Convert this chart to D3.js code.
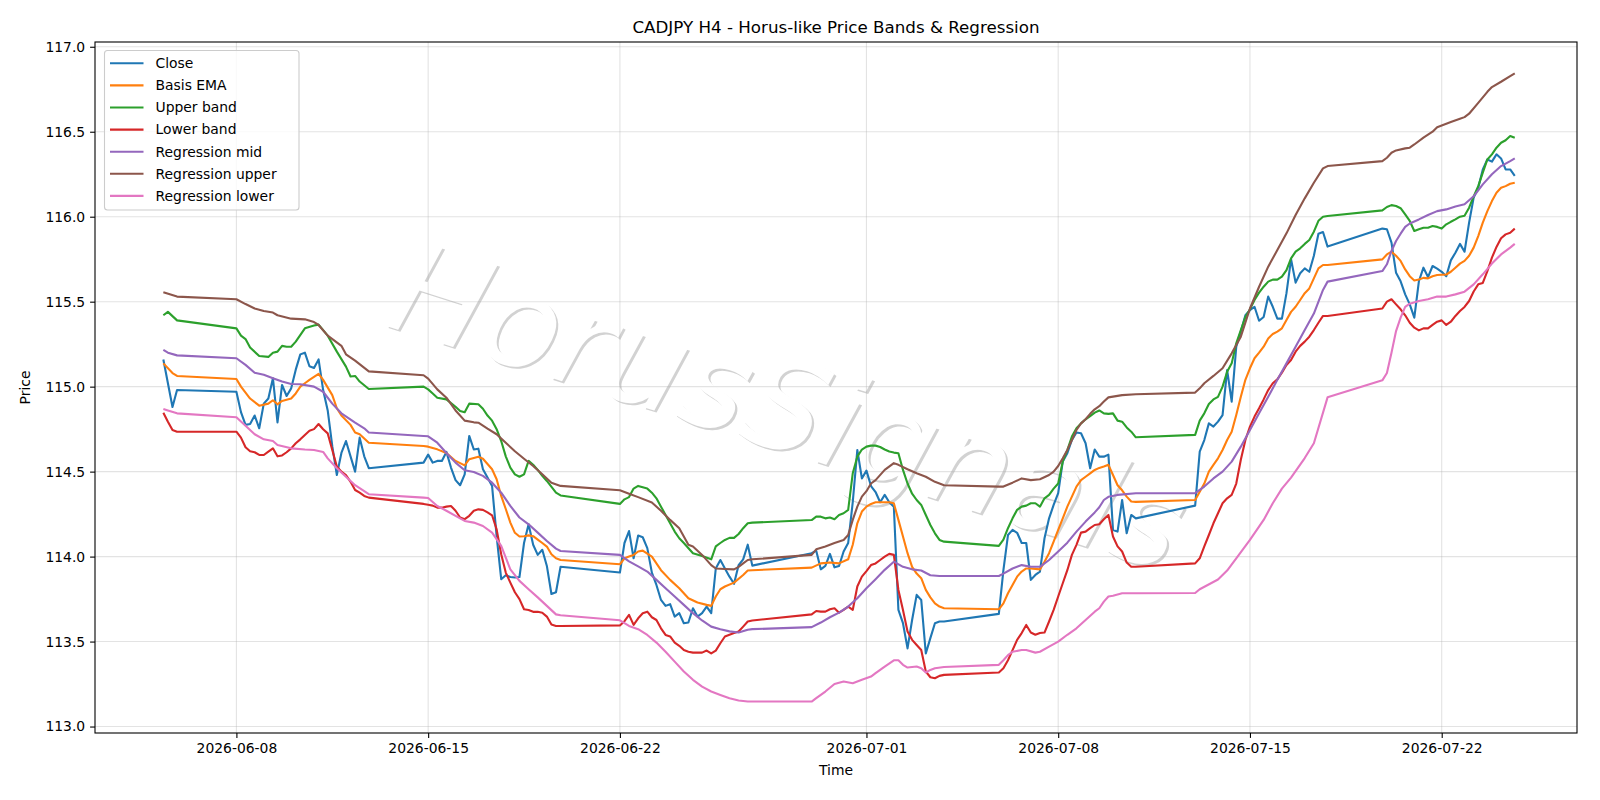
<!DOCTYPE html>
<html>
<head>
<meta charset="utf-8">
<script src="https://cdn.jsdelivr.net/npm/d3@7"></script>
<style>
  body { margin: 0; background: #fff; }
  svg text { font-family: "DejaVu Sans", sans-serif; fill: #000; }
</style>
</head>
<body>
<script>
// H4 bars are addressed as (w, j): w = week number (0 = week of 2026-06-08),
// j = 4h slot from Monday 00:00 (negative = before Monday, e.g. -1 = Sunday 20:00)
const weekBase = Date.UTC(2026, 5, 8);

// close: one value per bar, sessions give the bar ranges in order
const closeSessions = [
  [0, -16, -13],
  [0, 0, 29],
  [1, -1, 29],
  [2, 0, 29],
  [3, 0, 29],
  [4, -1, 29],
  [5, 0, 29],
  [6, -1, 28]
];
const close = [
  115.16, 115.02, 114.88, 114.98,
  114.97, 114.85, 114.775, 114.78, 114.83, 114.755, 114.90, 114.93, 115.05, 114.79,
  115.01, 114.945, 114.99, 115.10, 115.19, 115.20, 115.12, 115.11, 115.16, 114.98,
  114.86, 114.65, 114.48, 114.61, 114.68, 114.59, 114.50, 114.70, 114.59, 114.52,
  114.553, 114.60, 114.553, 114.563, 114.563, 114.616, 114.524, 114.45, 114.42, 114.484,
  114.71, 114.63, 114.635, 114.514, 114.465, 114.416, 114.12, 113.867, 113.89, 113.88,
  113.877, 113.88, 114.08, 114.19, 114.07, 114.01, 114.04, 113.945, 113.78, 113.79, 113.94,
  113.906, 114.08, 114.15, 113.99, 114.124, 114.114, 114.05, 113.906, 113.833, 113.745,
  113.71, 113.72, 113.647, 113.667, 113.608, 113.612, 113.696, 113.647, 113.667, 113.706,
  113.667, 113.93, 113.98, 113.93, 113.882, 113.84, 113.95, 113.984, 114.07, 113.947,
  114.02, 114.035, 113.925, 113.945, 114.016, 113.937, 113.945, 114.03, 114.08, 114.32,
  114.627, 114.46, 114.506, 114.415, 114.38, 114.32, 114.363, 114.32, 114.294, 113.686,
  113.608, 113.46, 113.627, 113.775, 113.745, 113.43, 113.52, 113.608, 113.618, 113.618,
  113.663, 113.92, 114.127, 114.157, 114.14, 114.08, 114.08, 113.863, 113.892, 113.912,
  114.108, 114.225, 114.304, 114.373, 114.56, 114.608, 114.686, 114.73, 114.726, 114.667,
  114.52, 114.63, 114.588, 114.588, 114.6, 114.157, 114.147, 114.333, 114.137, 114.245, 114.225,
  114.30, 114.618, 114.686, 114.784, 114.765, 114.794, 114.833, 115.098, 114.912, 115.235,
  115.324, 115.42, 115.45, 115.47, 115.388, 115.41, 115.53, 115.47, 115.40, 115.40,
  115.55, 115.75, 115.612, 115.667, 115.696, 115.676, 115.77, 115.90, 115.91, 115.824,
  115.93, 115.926, 115.847, 115.67, 115.62, 115.543, 115.484, 115.406, 115.62, 115.70,
  115.645, 115.71, 115.694, 115.676, 115.65, 115.743, 115.788, 115.84, 115.794, 115.965,
  116.112, 116.17, 116.278, 116.337, 116.324, 116.367, 116.343, 116.278, 116.278, 116.24
];

// smoother series: [w, j, value] at the bars where the line bends
const basisEma = [
  [0,-16,115.137],[0,-14,115.08],[0,-13,115.063],[0,0,115.045],[0,1,115.0],[0,3,114.93],[0,5,114.888],
  [0,7,114.90],[0,8,114.92],[0,9,114.896],[0,10,114.916],[0,12,114.93],[0,13,114.96],[0,14,115.0],
  [0,15,115.02],[0,16,115.04],[0,18,115.075],[0,19,115.04],[0,21,114.95],[0,22,114.873],[0,23,114.83],
  [0,25,114.775],[0,26,114.73],[0,27,114.72],[0,29,114.67],
  [1,-1,114.651],[1,0,114.647],[1,2,114.631],[1,4,114.61],[1,6,114.563],[1,8,114.537],[1,9,114.573],
  [1,11,114.588],[1,12,114.576],[1,14,114.514],[1,15,114.455],[1,16,114.357],[1,17,114.28],[1,18,114.20],
  [1,19,114.14],[1,20,114.118],[1,21,114.12],[1,22,114.125],[1,23,114.12],[1,24,114.10],[1,25,114.08],
  [1,26,114.059],[1,27,114.014],[1,28,113.99],[1,29,113.98],
  [2,0,113.955],[2,1,113.99],[2,2,114.0],[2,3,114.01],[2,4,114.03],[2,5,114.035],[2,7,114.0],[2,9,113.92],
  [2,11,113.863],[2,13,113.814],[2,15,113.755],[2,17,113.73],[2,19,113.716],[2,20,113.71],[2,21,113.765],
  [2,22,113.808],[2,23,113.824],[2,25,113.847],[2,27,113.892],[2,28,113.918],[2,29,113.92],
  [3,0,113.935],[3,2,113.96],[3,4,113.965],[3,6,113.96],[3,8,113.984],[3,9,114.07],[3,10,114.196],
  [3,11,114.265],[3,12,114.294],[3,13,114.31],[3,14,114.32],[3,17,114.32],[3,18,114.314],[3,19,114.216],
  [3,20,114.118],[3,21,114.02],[3,22,113.94],[3,23,113.90],[3,24,113.873],[3,25,113.804],[3,26,113.76],
  [3,27,113.725],[3,28,113.706],[3,29,113.696],
  [4,-1,113.69],[4,0,113.725],[4,1,113.784],[4,2,113.833],[4,3,113.882],[4,4,113.912],[4,5,113.93],
  [4,6,113.93],[4,8,113.925],[4,9,113.97],[4,10,114.02],[4,11,114.088],[4,12,114.157],[4,13,114.225],
  [4,14,114.294],[4,15,114.353],[4,16,114.412],[4,17,114.45],[4,18,114.47],[4,19,114.49],[4,20,114.51],
  [4,21,114.522],[4,22,114.53],[4,23,114.54],[4,24,114.48],[4,25,114.42],[4,26,114.39],[4,27,114.353],
  [4,28,114.324],[4,29,114.322],
  [5,0,114.333],[5,1,114.382],[5,2,114.43],[5,3,114.5],[5,4,114.54],[5,5,114.578],[5,6,114.627],
  [5,7,114.686],[5,8,114.735],[5,9,114.833],[5,10,114.94],[5,11,115.04],[5,12,115.108],[5,13,115.167],
  [5,14,115.2],[5,15,115.235],[5,16,115.284],[5,17,115.31],[5,18,115.324],[5,19,115.343],[5,20,115.392],
  [5,21,115.44],[5,22,115.47],[5,23,115.51],[5,24,115.55],[5,25,115.578],[5,26,115.637],[5,27,115.696],
  [5,28,115.716],[5,29,115.716],
  [6,-1,115.749],[6,0,115.778],[6,1,115.794],[6,2,115.77],[6,3,115.74],[6,4,115.69],[6,5,115.65],
  [6,6,115.625],[6,7,115.63],[6,8,115.64],[6,9,115.637],[6,10,115.65],[6,11,115.657],[6,13,115.66],
  [6,14,115.676],[6,15,115.70],[6,16,115.724],[6,17,115.74],[6,18,115.77],[6,19,115.818],[6,20,115.886],
  [6,21,115.965],[6,22,116.033],[6,23,116.092],[6,24,116.141],[6,25,116.17],[6,26,116.18],[6,27,116.194],
  [6,28,116.2]
];

const upperBand = [
  [0,-16,115.42],[0,-15,115.44],[0,-13,115.39],[0,0,115.343],[0,1,115.30],[0,2,115.28],[0,3,115.23],
  [0,5,115.18],[0,7,115.175],[0,8,115.20],[0,9,115.206],[0,10,115.24],[0,11,115.235],[0,12,115.235],
  [0,13,115.265],[0,15,115.343],[0,17,115.36],[0,18,115.365],[0,20,115.30],[0,22,115.206],[0,24,115.118],
  [0,25,115.06],[0,26,115.063],[0,27,115.03],[0,29,114.986],
  [1,-1,115.0],[1,0,114.984],[1,1,114.96],[1,2,114.935],[1,4,114.925],[1,6,114.882],[1,7,114.857],
  [1,8,114.85],[1,9,114.90],[1,11,114.896],[1,12,114.87],[1,13,114.83],[1,14,114.80],[1,15,114.75],
  [1,16,114.68],[1,17,114.59],[1,18,114.523],[1,19,114.484],[1,20,114.47],[1,21,114.484],[1,22,114.563],
  [1,23,114.54],[1,24,114.51],[1,25,114.475],[1,26,114.445],[1,28,114.376],[1,29,114.36],
  [2,0,114.31],[2,1,114.337],[2,2,114.35],[2,3,114.40],[2,4,114.416],[2,6,114.40],[2,7,114.376],
  [2,8,114.343],[2,9,114.294],[2,10,114.245],[2,11,114.196],[2,12,114.147],[2,13,114.108],[2,14,114.08],
  [2,16,114.02],[2,18,114.004],[2,20,113.984],[2,21,114.06],[2,22,114.08],[2,23,114.098],[2,24,114.11],
  [2,25,114.11],[2,26,114.133],[2,27,114.167],[2,28,114.196],[2,29,114.2],
  [3,0,114.215],[3,1,114.235],[3,2,114.235],[3,3,114.225],[3,4,114.23],[3,5,114.22],[3,6,114.245],
  [3,7,114.255],[3,8,114.275],[3,9,114.49],[3,10,114.588],[3,11,114.63],[3,12,114.647],[3,13,114.653],
  [3,14,114.653],[3,15,114.645],[3,16,114.63],[3,17,114.618],[3,18,114.612],[3,19,114.608],[3,20,114.51],
  [3,21,114.43],[3,22,114.37],[3,23,114.333],[3,24,114.304],[3,25,114.245],[3,26,114.186],[3,27,114.137],
  [3,28,114.098],[3,29,114.088],
  [4,-1,114.063],[4,0,114.10],[4,1,114.167],[4,2,114.225],[4,3,114.275],[4,4,114.294],[4,5,114.30],
  [4,6,114.314],[4,7,114.314],[4,8,114.294],[4,9,114.343],[4,10,114.363],[4,11,114.40],[4,12,114.43],
  [4,13,114.56],[4,14,114.627],[4,15,114.706],[4,16,114.755],[4,17,114.784],[4,18,114.808],[4,19,114.827],
  [4,20,114.847],[4,21,114.86],[4,22,114.843],[4,23,114.84],[4,24,114.843],[4,25,114.80],[4,26,114.794],
  [4,27,114.76],[4,28,114.735],[4,29,114.702],
  [5,0,114.716],[5,1,114.8],[5,2,114.843],[5,3,114.898],[5,4,114.925],[5,5,114.94],[5,6,115.0],
  [5,7,115.088],[5,8,115.137],[5,9,115.255],[5,10,115.333],[5,11,115.41],[5,12,115.455],[5,13,115.51],
  [5,14,115.553],[5,15,115.588],[5,16,115.618],[5,17,115.63],[5,18,115.63],[5,19,115.647],[5,20,115.686],
  [5,21,115.755],[5,22,115.794],[5,23,115.814],[5,24,115.84],[5,25,115.863],[5,26,115.912],[5,27,115.976],
  [5,28,116.0],[5,29,116.004],
  [6,-1,116.037],[6,0,116.057],[6,1,116.068],[6,2,116.063],[6,3,116.05],[6,4,116.014],[6,5,115.975],
  [6,6,115.916],[6,7,115.926],[6,8,115.935],[6,9,115.935],[6,10,115.945],[6,11,115.94],[6,12,115.93],
  [6,13,115.955],[6,14,115.97],[6,15,115.984],[6,16,116.0],[6,17,116.006],[6,18,116.053],[6,19,116.12],
  [6,20,116.18],[6,21,116.259],[6,22,116.337],[6,23,116.367],[6,24,116.406],[6,25,116.435],[6,26,116.45],
  [6,27,116.475],[6,28,116.465]
];

const lowerBand = [
  [0,-16,114.847],[0,-15,114.794],[0,-14,114.745],[0,-13,114.735],[0,0,114.735],[0,1,114.70],[0,2,114.643],
  [0,3,114.62],[0,4,114.614],[0,5,114.598],[0,6,114.598],[0,7,114.618],[0,8,114.637],[0,9,114.59],
  [0,10,114.595],[0,11,114.614],[0,12,114.637],[0,13,114.667],[0,14,114.69],[0,15,114.716],[0,16,114.74],
  [0,17,114.75],[0,18,114.78],[0,19,114.749],[0,20,114.725],[0,21,114.627],[0,22,114.53],[0,23,114.50],
  [0,24,114.48],[0,25,114.44],[0,26,114.392],[0,27,114.376],[0,28,114.357],[0,29,114.347],
  [1,-1,114.31],[1,0,114.305],[1,1,114.3],[1,2,114.288],[1,3,114.288],[1,4,114.294],[1,5,114.298],
  [1,6,114.27],[1,7,114.23],[1,8,114.22],[1,9,114.24],[1,10,114.27],[1,11,114.278],[1,12,114.275],
  [1,13,114.26],[1,14,114.243],[1,15,114.16],[1,16,114.014],[1,17,113.906],[1,18,113.847],[1,19,113.79],
  [1,20,113.75],[1,21,113.69],[1,22,113.686],[1,23,113.675],[1,24,113.675],[1,25,113.67],[1,26,113.647],
  [1,27,113.60],[1,28,113.592],[1,29,113.592],
  [2,0,113.595],[2,1,113.62],[2,2,113.657],[2,3,113.598],[2,4,113.637],[2,5,113.667],[2,6,113.676],
  [2,7,113.643],[2,8,113.627],[2,9,113.578],[2,10,113.539],[2,11,113.53],[2,12,113.494],[2,13,113.475],
  [2,14,113.45],[2,15,113.44],[2,16,113.435],[2,18,113.435],[2,19,113.447],[2,20,113.43],[2,21,113.447],
  [2,22,113.49],[2,23,113.53],[2,24,113.54],[2,25,113.55],[2,26,113.559],[2,27,113.588],[2,28,113.618],
  [2,29,113.624],
  [3,0,113.66],[3,1,113.68],[3,2,113.676],[3,3,113.676],[3,4,113.69],[3,5,113.696],[3,6,113.67],
  [3,7,113.686],[3,8,113.706],[3,9,113.686],[3,10,113.824],[3,11,113.882],[3,12,113.915],[3,13,113.95],
  [3,14,113.96],[3,15,113.98],[3,16,114.0],[3,17,114.016],[3,18,114.01],[3,19,113.804],[3,20,113.686],
  [3,21,113.559],[3,22,113.51],[3,23,113.48],[3,24,113.45],[3,25,113.324],[3,26,113.29],[3,27,113.284],
  [3,28,113.298],[3,29,113.304],
  [4,-1,113.318],[4,0,113.343],[4,1,113.39],[4,2,113.45],[4,3,113.51],[4,4,113.55],[4,5,113.598],
  [4,6,113.553],[4,7,113.54],[4,8,113.55],[4,9,113.553],[4,10,113.618],[4,11,113.686],[4,12,113.765],
  [4,13,113.843],[4,14,113.92],[4,15,114.01],[4,16,114.069],[4,17,114.141],[4,18,114.147],[4,19,114.167],
  [4,20,114.186],[4,21,114.19],[4,22,114.22],[4,23,114.245],[4,24,114.118],[4,25,114.06],[4,26,114.03],
  [4,27,113.965],[4,28,113.94],[4,29,113.94],
  [5,0,113.96],[5,1,113.99],[5,2,114.06],[5,3,114.127],[5,4,114.196],[5,5,114.255],[5,6,114.314],
  [5,7,114.343],[5,8,114.363],[5,9,114.43],[5,10,114.57],[5,11,114.686],[5,12,114.765],[5,13,114.824],
  [5,14,114.873],[5,15,114.925],[5,16,114.98],[5,17,115.02],[5,18,115.043],[5,19,115.082],[5,20,115.127],
  [5,21,115.157],[5,22,115.206],[5,23,115.24],[5,24,115.265],[5,25,115.294],[5,26,115.333],[5,27,115.376],
  [5,28,115.416],[5,29,115.416],
  [6,-1,115.46],[6,0,115.5],[6,1,115.514],[6,2,115.484],[6,3,115.455],[6,4,115.42],[6,5,115.376],
  [6,6,115.347],[6,7,115.331],[6,8,115.343],[6,9,115.343],[6,10,115.363],[6,11,115.382],[6,12,115.39],
  [6,13,115.363],[6,14,115.382],[6,15,115.416],[6,16,115.445],[6,17,115.469],[6,18,115.504],[6,19,115.56],
  [6,20,115.602],[6,21,115.61],[6,22,115.68],[6,23,115.759],[6,24,115.822],[6,25,115.873],[6,26,115.896],
  [6,27,115.906],[6,28,115.93]
];

const regMid = [
  [0,-16,115.216],[0,-15,115.20],[0,-13,115.184],[0,0,115.167],[0,2,115.128],[0,4,115.082],[0,6,115.07],
  [0,8,115.05],[0,10,115.03],[0,12,115.016],[0,14,115.014],[0,17,115.0],[0,19,114.97],[0,21,114.90],
  [0,23,114.843],[0,26,114.788],[0,28,114.755],[0,29,114.73],
  [1,-1,114.71],[1,0,114.708],[1,2,114.67],[1,4,114.61],[1,6,114.553],[1,8,114.508],[1,10,114.498],
  [1,12,114.475],[1,14,114.435],[1,16,114.376],[1,18,114.298],[1,20,114.23],[1,22,114.19],[1,24,114.141],
  [1,26,114.092],[1,28,114.047],[1,29,114.033],
  [2,0,114.01],[2,2,113.972],[2,4,113.942],[2,6,113.912],[2,8,113.863],[2,10,113.814],[2,12,113.765],
  [2,14,113.716],[2,16,113.667],[2,18,113.624],[2,20,113.588],[2,22,113.573],[2,24,113.56],[2,26,113.553],
  [2,28,113.57],[2,29,113.573],
  [3,0,113.585],[3,2,113.612],[3,4,113.643],[3,6,113.67],[3,8,113.706],[3,10,113.755],[3,12,113.814],
  [3,14,113.867],[3,16,113.922],[3,18,113.97],[3,20,113.94],[3,22,113.925],[3,24,113.918],[3,26,113.89],
  [3,28,113.886],[3,29,113.886],
  [4,-1,113.886],[4,0,113.90],[4,2,113.93],[4,4,113.95],[4,6,113.94],[4,8,113.94],[4,10,113.98],
  [4,12,114.03],[4,14,114.082],[4,16,114.147],[4,18,114.206],[4,20,114.26],[4,21,114.29],[4,22,114.333],
  [4,23,114.352],[4,25,114.363],[4,29,114.373],
  [5,0,114.373],[5,2,114.412],[5,4,114.46],[5,6,114.5],[5,8,114.559],[5,10,114.647],[5,12,114.745],
  [5,14,114.843],[5,16,114.94],[5,18,115.04],[5,20,115.137],[5,22,115.235],[5,24,115.333],[5,26,115.43],
  [5,28,115.569],[5,29,115.618],
  [6,-1,115.68],[6,0,115.72],[6,1,115.798],[6,2,115.857],[6,3,115.9],[6,4,115.94],[6,5,115.96],
  [6,7,115.984],[6,9,116.01],[6,11,116.033],[6,13,116.043],[6,15,116.06],[6,17,116.073],[6,19,116.12],
  [6,21,116.19],[6,23,116.25],[6,25,116.298],[6,27,116.327],[6,28,116.343]
];

const regUpper = [
  [0,-16,115.555],[0,-13,115.53],[0,0,115.514],[0,2,115.486],[0,4,115.46],[0,6,115.445],[0,8,115.436],
  [0,9,115.42],[0,12,115.40],[0,15,115.396],[0,17,115.38],[0,18,115.363],[0,20,115.30],[0,23,115.24],
  [0,24,115.19],[0,26,115.153],[0,29,115.09],
  [1,-1,115.067],[1,0,115.047],[1,2,114.984],[1,4,114.935],[1,6,114.86],[1,8,114.80],[1,10,114.79],
  [1,11,114.788],[1,13,114.753],[1,15,114.72],[1,17,114.67],[1,19,114.62],[1,21,114.576],[1,23,114.533],
  [1,25,114.484],[1,27,114.435],[1,29,114.416],
  [2,0,114.39],[2,2,114.37],[2,4,114.35],[2,7,114.318],[2,9,114.27],[2,11,114.216],[2,13,114.167],
  [2,15,114.07],[2,16,114.06],[2,18,114.01],[2,20,113.95],[2,21,113.93],[2,23,113.927],[2,25,113.925],
  [2,26,113.94],[2,27,113.96],[2,28,113.98],[2,29,113.984],
  [3,0,114.01],[3,1,114.043],[3,3,114.06],[3,5,114.08],[3,7,114.098],[3,8,114.127],[3,9,114.216],
  [3,10,114.294],[3,11,114.353],[3,12,114.385],[3,13,114.43],[3,14,114.45],[3,16,114.51],[3,18,114.55],
  [3,19,114.54],[3,21,114.514],[3,23,114.49],[3,25,114.47],[3,27,114.44],[3,29,114.42],
  [4,-1,114.412],[4,0,114.412],[4,2,114.435],[4,4,114.46],[4,6,114.45],[4,8,114.455],[4,10,114.48],
  [4,11,114.50],[4,12,114.533],[4,13,114.578],[4,14,114.627],[4,15,114.686],[4,16,114.745],[4,17,114.784],
  [4,18,114.808],[4,19,114.84],[4,20,114.867],[4,21,114.885],[4,22,114.912],[4,23,114.937],[4,26,114.95],
  [4,29,114.955],
  [5,0,114.965],[5,1,114.99],[5,2,115.02],[5,4,115.063],[5,6,115.108],[5,8,115.196],[5,10,115.294],
  [5,12,115.46],[5,14,115.588],[5,16,115.706],[5,18,115.804],[5,20,115.902],[5,22,116.01],[5,24,116.108],
  [5,26,116.2],[5,28,116.284],[5,29,116.298],
  [6,-1,116.327],[6,0,116.347],[6,1,116.376],[6,2,116.39],[6,4,116.402],[6,5,116.406],[6,6,116.425],
  [6,8,116.465],[6,10,116.5],[6,11,116.527],[6,12,116.537],[6,14,116.557],[6,16,116.576],[6,17,116.586],
  [6,18,116.606],[6,20,116.67],[6,22,116.735],[6,23,116.763],[6,25,116.794],[6,27,116.827],[6,28,116.843]
];

const regLower = [
  [0,-16,114.869],[0,-15,114.86],[0,-13,114.843],[0,0,114.82],[0,2,114.77],[0,4,114.72],[0,6,114.69],
  [0,8,114.68],[0,9,114.657],[0,12,114.637],[0,15,114.63],[0,17,114.627],[0,19,114.616],[0,20,114.578],
  [0,22,114.52],[0,24,114.47],[0,26,114.42],[0,29,114.367],
  [1,-1,114.347],[1,0,114.345],[1,2,114.298],[1,4,114.27],[1,6,114.24],[1,8,114.21],[1,10,114.2],
  [1,12,114.18],[1,14,114.141],[1,16,114.063],[1,18,113.925],[1,20,113.857],[1,22,113.808],[1,24,113.76],
  [1,26,113.71],[1,28,113.66],[1,29,113.655],
  [2,0,113.625],[2,2,113.592],[2,4,113.573],[2,6,113.539],[2,8,113.494],[2,10,113.44],[2,12,113.382],
  [2,14,113.324],[2,16,113.275],[2,18,113.235],[2,20,113.206],[2,22,113.186],[2,24,113.167],[2,26,113.153],
  [2,28,113.147],[2,29,113.147],
  [3,0,113.147],[3,1,113.167],[3,3,113.206],[3,5,113.25],[3,7,113.265],[3,9,113.255],[3,11,113.275],
  [3,13,113.294],[3,14,113.314],[3,16,113.353],[3,18,113.39],[3,19,113.39],[3,20,113.363],[3,21,113.347],
  [3,23,113.353],[3,24,113.343],[3,25,113.318],[3,26,113.333],[3,27,113.343],[3,29,113.35],
  [4,-1,113.363],[4,0,113.39],[4,1,113.42],[4,2,113.44],[4,4,113.45],[4,5,113.45],[4,7,113.435],
  [4,8,113.44],[4,10,113.47],[4,12,113.5],[4,14,113.54],[4,16,113.578],[4,18,113.627],[4,20,113.676],
  [4,21,113.696],[4,22,113.735],[4,23,113.765],[4,24,113.77],[4,26,113.784],[4,29,113.784],
  [5,0,113.786],[5,1,113.808],[5,5,113.865],[5,7,113.918],[5,9,113.99],[5,12,114.098],[5,15,114.216],
  [5,17,114.314],[5,19,114.40],[5,21,114.465],[5,24,114.58],[5,26,114.667],[5,29,114.937],
  [6,-1,115.037],[6,0,115.08],[6,1,115.2],[6,2,115.327],[6,3,115.406],[6,4,115.469],[6,5,115.488],
  [6,7,115.504],[6,9,115.514],[6,11,115.53],[6,13,115.53],[6,15,115.543],[6,17,115.559],[6,19,115.602],
  [6,21,115.661],[6,23,115.724],[6,25,115.778],[6,27,115.818],[6,28,115.84]
];

const seriesNames = ["Close", "Basis EMA", "Upper band", "Lower band", "Regression mid", "Regression upper", "Regression lower"];
const seriesColors = ["#1f77b4", "#ff7f0e", "#2ca02c", "#d62728", "#9467bd", "#8c564b", "#e377c2"];
const xTickLabels = ["2026-06-08", "2026-06-15", "2026-06-22", "2026-07-01", "2026-07-08", "2026-07-15", "2026-07-22"];
const yTickValues = [113.0, 113.5, 114.0, 114.5, 115.0, 115.5, 116.0, 116.5, 117.0];

function barTime(w, j) {
  return new Date(weekBase + w * 7 * 864e5 + j * 4 * 36e5);
}

// expand close into points
var closePts = [], k = 0;
closeSessions.forEach(function(s) {
  for (var j = s[1]; j <= s[2]; j++) {
    closePts.push({ t: barTime(s[0], j), v: close[k++] });
  }
});
function toPts(arr) {
  return arr.map(function(d) { return { t: barTime(d[0], d[1]), v: d[2] }; });
}
var allSeries = [closePts, toPts(basisEma), toPts(upperBand), toPts(lowerBand),
                 toPts(regMid), toPts(regUpper), toPts(regLower)];

var width = 1600, height = 800;
// plot area (don't use window.top!)
var pL = 95, pR = 1577, pT = 42, pB = 733;

var svg = d3.select("body").append("svg").attr("width", width).attr("height", height);

var x = d3.scaleUtc()
  .domain([new Date("2026-06-02T20:07:00Z"), new Date("2026-07-26T22:32:00Z")])
  .range([pL, pR]);
var y = d3.scaleLinear().domain([112.962, 117.028]).range([pB, pT]);

// watermark (light drop shadow + white letters)
var wmX = 788, wmY = 407, wmRot = 17.5;
svg.append("text")
  .attr("transform", "translate(" + (wmX + 2.2) + "," + (wmY + 2.2) + ") rotate(" + wmRot + ")")
  .attr("text-anchor", "middle").attr("dominant-baseline", "central")
  .style("font-size", "126px").style("font-style", "italic")
  .style("fill", "#d2d2d2")
  .text("HorusSignals");
svg.append("text")
  .attr("transform", "translate(" + wmX + "," + wmY + ") rotate(" + wmRot + ")")
  .attr("text-anchor", "middle").attr("dominant-baseline", "central")
  .style("font-size", "126px").style("font-style", "italic")
  .style("fill", "#ffffff")
  .text("HorusSignals");

// grid
var xTicks = xTickLabels.map(function(s) { return new Date(s + "T00:00:00Z"); });
var grid = svg.append("g").attr("stroke", "#b0b0b0").attr("stroke-opacity", 0.35).attr("stroke-width", 1.1);
grid.selectAll("line.gx").data(xTicks).enter().append("line")
  .attr("x1", function(d) { return x(d); }).attr("x2", function(d) { return x(d); })
  .attr("y1", pT).attr("y2", pB);
grid.selectAll("line.gy").data(yTickValues).enter().append("line")
  .attr("y1", function(d) { return y(d); }).attr("y2", function(d) { return y(d); })
  .attr("x1", pL).attr("x2", pR);

// lines
var line = d3.line()
  .x(function(d) { return x(d.t); })
  .y(function(d) { return y(d.v); });

svg.append("g").selectAll("path").data(allSeries).enter().append("path")
  .attr("fill", "none")
  .attr("stroke", function(d, i) { return seriesColors[i]; })
  .attr("stroke-width", 2.1)
  .attr("stroke-linejoin", "round")
  .attr("d", line);

// axes
var xAxis = svg.append("g").attr("transform", "translate(0," + pB + ")")
  .call(d3.axisBottom(x).tickValues(xTicks).tickFormat(d3.utcFormat("%Y-%m-%d"))
    .tickSize(4.9).tickPadding(4.9));
var yAxis = svg.append("g").attr("transform", "translate(" + pL + ",0)")
  .call(d3.axisLeft(y).tickValues(yTickValues).tickFormat(d3.format(".1f"))
    .tickSize(4.9).tickPadding(4.9));
[xAxis, yAxis].forEach(function(a) {
  a.select(".domain").remove();
  a.selectAll(".tick line").attr("stroke", "#000").attr("stroke-width", 1.1);
  a.selectAll(".tick text").style("font-size", "13.9px").style("font-family", "DejaVu Sans");
});

// spines
svg.append("rect").attr("x", pL).attr("y", pT).attr("width", pR - pL).attr("height", pB - pT)
  .attr("fill", "none").attr("stroke", "#000").attr("stroke-width", 1.1);

// labels
svg.append("text").attr("x", (pL + pR) / 2).attr("y", 32.5).attr("text-anchor", "middle")
  .style("font-size", "16.7px").text("CADJPY H4 - Horus-like Price Bands & Regression");
svg.append("text").attr("x", (pL + pR) / 2).attr("y", 775).attr("text-anchor", "middle")
  .style("font-size", "13.9px").text("Time");
svg.append("text").attr("transform", "translate(30," + ((pT + pB) / 2) + ") rotate(-90)")
  .attr("text-anchor", "middle").style("font-size", "13.9px").text("Price");

// legend
var legend = svg.append("g");
legend.append("rect").attr("x", 104.5).attr("y", 50.5).attr("width", 194.5).attr("height", 159.5)
  .attr("rx", 3).attr("fill", "#fff").attr("fill-opacity", 0.8)
  .attr("stroke", "#cccccc").attr("stroke-width", 1.1);
seriesNames.forEach(function(name, i) {
  var ly = 63.3 + i * 22.1;
  legend.append("line").attr("x1", 110).attr("x2", 143.5).attr("y1", ly).attr("y2", ly)
    .attr("stroke", seriesColors[i]).attr("stroke-width", 2.1);
  legend.append("text").attr("x", 155.5).attr("y", ly).attr("dy", "0.35em")
    .style("font-size", "13.9px").text(name);
});
</script>
</body>
</html>
